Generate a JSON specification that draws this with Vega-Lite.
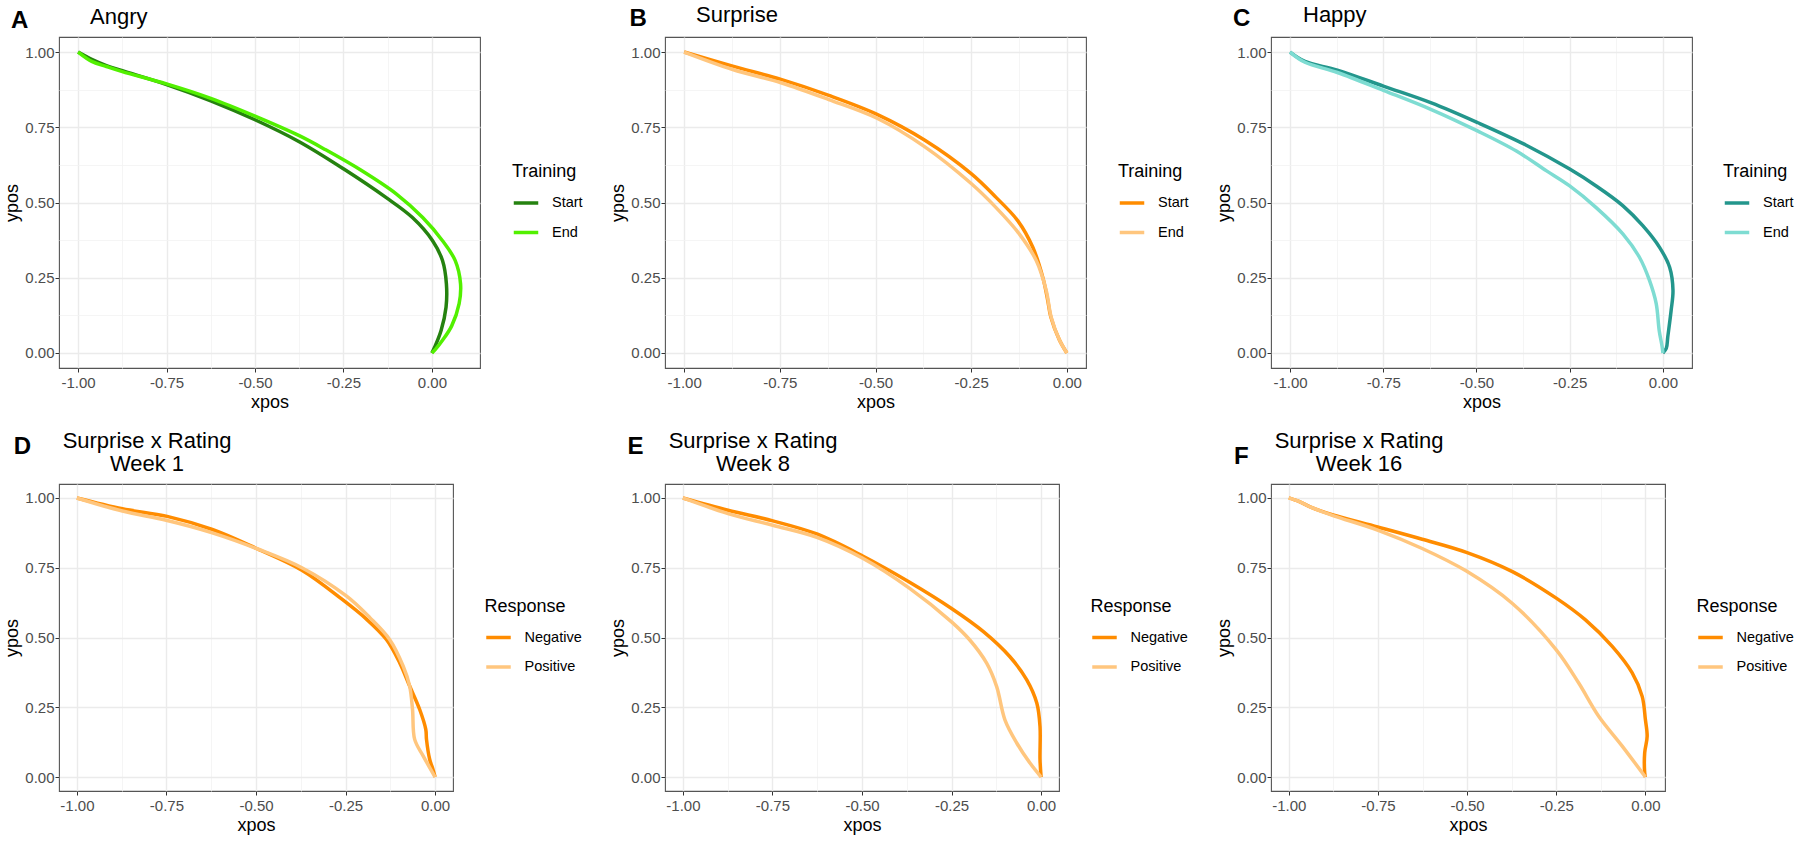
{
  "$schema": "https://vega.github.io/schema/vega-lite/v6.json",
  "background": "white",
  "padding": {"left": 3, "top": 3, "right": 0, "bottom": 0},
  "datasets": {
    "angry": [
      {"i":0,"group":"Start","xpos":-1,"ypos":1},{"i":1,"group":"Start","xpos":-0.96,"ypos":0.975},{"i":2,"group":"Start","xpos":-0.92,"ypos":0.955},{"i":3,"group":"Start","xpos":-0.875,"ypos":0.938},{"i":4,"group":"Start","xpos":-0.75,"ypos":0.892},{"i":5,"group":"Start","xpos":-0.625,"ypos":0.838},{"i":6,"group":"Start","xpos":-0.5,"ypos":0.775},{"i":7,"group":"Start","xpos":-0.375,"ypos":0.702},{"i":8,"group":"Start","xpos":-0.25,"ypos":0.612},{"i":9,"group":"Start","xpos":-0.13,"ypos":0.517},{"i":10,"group":"Start","xpos":-0.055,"ypos":0.45},{"i":11,"group":"Start","xpos":0.002,"ypos":0.373},{"i":12,"group":"Start","xpos":0.03,"ypos":0.307},{"i":13,"group":"Start","xpos":0.041,"ypos":0.23},{"i":14,"group":"Start","xpos":0.04,"ypos":0.152},{"i":15,"group":"Start","xpos":0.026,"ypos":0.075},{"i":16,"group":"Start","xpos":0.008,"ypos":0.02},{"i":17,"group":"Start","xpos":0,"ypos":0},
      {"i":0,"group":"End","xpos":-1,"ypos":1},{"i":1,"group":"End","xpos":-0.96,"ypos":0.968},{"i":2,"group":"End","xpos":-0.92,"ypos":0.952},{"i":3,"group":"End","xpos":-0.875,"ypos":0.935},{"i":4,"group":"End","xpos":-0.75,"ypos":0.894},{"i":5,"group":"End","xpos":-0.625,"ypos":0.846},{"i":6,"group":"End","xpos":-0.5,"ypos":0.787},{"i":7,"group":"End","xpos":-0.375,"ypos":0.722},{"i":8,"group":"End","xpos":-0.3,"ypos":0.675},{"i":9,"group":"End","xpos":-0.2,"ypos":0.607},{"i":10,"group":"End","xpos":-0.1,"ypos":0.528},{"i":11,"group":"End","xpos":-0.026,"ypos":0.45},{"i":12,"group":"End","xpos":0.03,"ypos":0.373},{"i":13,"group":"End","xpos":0.066,"ypos":0.307},{"i":14,"group":"End","xpos":0.081,"ypos":0.23},{"i":15,"group":"End","xpos":0.077,"ypos":0.164},{"i":16,"group":"End","xpos":0.056,"ypos":0.09},{"i":17,"group":"End","xpos":0.03,"ypos":0.042},{"i":18,"group":"End","xpos":0.01,"ypos":0.012},{"i":19,"group":"End","xpos":0,"ypos":0}
    ],
    "surprise": [
      {"i":0,"group":"Start","xpos":-1,"ypos":1},{"i":1,"group":"Start","xpos":-0.873,"ypos":0.953},{"i":2,"group":"Start","xpos":-0.747,"ypos":0.909},{"i":3,"group":"Start","xpos":-0.622,"ypos":0.856},{"i":4,"group":"Start","xpos":-0.496,"ypos":0.793},{"i":5,"group":"Start","xpos":-0.371,"ypos":0.707},{"i":6,"group":"Start","xpos":-0.25,"ypos":0.596},{"i":7,"group":"Start","xpos":-0.185,"ypos":0.517},{"i":8,"group":"Start","xpos":-0.128,"ypos":0.439},{"i":9,"group":"Start","xpos":-0.089,"ypos":0.351},{"i":10,"group":"Start","xpos":-0.063,"ypos":0.252},{"i":11,"group":"Start","xpos":-0.05,"ypos":0.175},{"i":12,"group":"Start","xpos":-0.042,"ypos":0.12},{"i":13,"group":"Start","xpos":-0.02,"ypos":0.045},{"i":14,"group":"Start","xpos":0,"ypos":0},
      {"i":0,"group":"End","xpos":-1,"ypos":1},{"i":1,"group":"End","xpos":-0.873,"ypos":0.942},{"i":2,"group":"End","xpos":-0.747,"ypos":0.898},{"i":3,"group":"End","xpos":-0.622,"ypos":0.842},{"i":4,"group":"End","xpos":-0.496,"ypos":0.78},{"i":5,"group":"End","xpos":-0.371,"ypos":0.685},{"i":6,"group":"End","xpos":-0.25,"ypos":0.563},{"i":7,"group":"End","xpos":-0.185,"ypos":0.483},{"i":8,"group":"End","xpos":-0.124,"ypos":0.395},{"i":9,"group":"End","xpos":-0.08,"ypos":0.307},{"i":10,"group":"End","xpos":-0.054,"ypos":0.208},{"i":11,"group":"End","xpos":-0.041,"ypos":0.119},{"i":12,"group":"End","xpos":-0.019,"ypos":0.042},{"i":13,"group":"End","xpos":0,"ypos":0}
    ],
    "happy": [
      {"i":0,"group":"Start","xpos":-1,"ypos":1},{"i":1,"group":"Start","xpos":-0.96,"ypos":0.969},{"i":2,"group":"Start","xpos":-0.873,"ypos":0.94},{"i":3,"group":"Start","xpos":-0.748,"ypos":0.886},{"i":4,"group":"Start","xpos":-0.621,"ypos":0.831},{"i":5,"group":"Start","xpos":-0.496,"ypos":0.765},{"i":6,"group":"Start","xpos":-0.369,"ypos":0.692},{"i":7,"group":"Start","xpos":-0.25,"ypos":0.611},{"i":8,"group":"Start","xpos":-0.179,"ypos":0.555},{"i":9,"group":"Start","xpos":-0.107,"ypos":0.489},{"i":10,"group":"Start","xpos":-0.054,"ypos":0.423},{"i":11,"group":"Start","xpos":-0.009,"ypos":0.351},{"i":12,"group":"Start","xpos":0.018,"ypos":0.285},{"i":13,"group":"Start","xpos":0.027,"ypos":0.208},{"i":14,"group":"Start","xpos":0.022,"ypos":0.141},{"i":15,"group":"Start","xpos":0.013,"ypos":0.053},{"i":16,"group":"Start","xpos":0.009,"ypos":0.015},{"i":17,"group":"Start","xpos":0,"ypos":0},
      {"i":0,"group":"End","xpos":-1,"ypos":1},{"i":1,"group":"End","xpos":-0.96,"ypos":0.966},{"i":2,"group":"End","xpos":-0.873,"ypos":0.932},{"i":3,"group":"End","xpos":-0.748,"ypos":0.872},{"i":4,"group":"End","xpos":-0.621,"ypos":0.809},{"i":5,"group":"End","xpos":-0.496,"ypos":0.737},{"i":6,"group":"End","xpos":-0.393,"ypos":0.671},{"i":7,"group":"End","xpos":-0.312,"ypos":0.605},{"i":8,"group":"End","xpos":-0.25,"ypos":0.555},{"i":9,"group":"End","xpos":-0.179,"ypos":0.483},{"i":10,"group":"End","xpos":-0.107,"ypos":0.395},{"i":11,"group":"End","xpos":-0.063,"ypos":0.318},{"i":12,"group":"End","xpos":-0.036,"ypos":0.241},{"i":13,"group":"End","xpos":-0.018,"ypos":0.164},{"i":14,"group":"End","xpos":-0.01,"ypos":0.075},{"i":15,"group":"End","xpos":-0.002,"ypos":0.02},{"i":16,"group":"End","xpos":0,"ypos":0}
    ],
    "week1": [
      {"i":0,"group":"Negative","xpos":-1,"ypos":1},{"i":1,"group":"Negative","xpos":-0.873,"ypos":0.961},{"i":2,"group":"Negative","xpos":-0.748,"ypos":0.934},{"i":3,"group":"Negative","xpos":-0.622,"ypos":0.887},{"i":4,"group":"Negative","xpos":-0.497,"ypos":0.818},{"i":5,"group":"Negative","xpos":-0.372,"ypos":0.741},{"i":6,"group":"Negative","xpos":-0.261,"ypos":0.638},{"i":7,"group":"Negative","xpos":-0.191,"ypos":0.565},{"i":8,"group":"Negative","xpos":-0.136,"ypos":0.493},{"i":9,"group":"Negative","xpos":-0.099,"ypos":0.41},{"i":10,"group":"Negative","xpos":-0.071,"ypos":0.326},{"i":11,"group":"Negative","xpos":-0.043,"ypos":0.242},{"i":12,"group":"Negative","xpos":-0.026,"ypos":0.171},{"i":13,"group":"Negative","xpos":-0.024,"ypos":0.135},{"i":14,"group":"Negative","xpos":-0.015,"ypos":0.063},{"i":15,"group":"Negative","xpos":-0.006,"ypos":0.028},{"i":16,"group":"Negative","xpos":0,"ypos":0},
      {"i":0,"group":"Positive","xpos":-1,"ypos":1},{"i":1,"group":"Positive","xpos":-0.873,"ypos":0.953},{"i":2,"group":"Positive","xpos":-0.748,"ypos":0.919},{"i":3,"group":"Positive","xpos":-0.622,"ypos":0.875},{"i":4,"group":"Positive","xpos":-0.497,"ypos":0.818},{"i":5,"group":"Positive","xpos":-0.372,"ypos":0.75},{"i":6,"group":"Positive","xpos":-0.247,"ypos":0.648},{"i":7,"group":"Positive","xpos":-0.182,"ypos":0.571},{"i":8,"group":"Positive","xpos":-0.127,"ypos":0.493},{"i":9,"group":"Positive","xpos":-0.089,"ypos":0.397},{"i":10,"group":"Positive","xpos":-0.071,"ypos":0.326},{"i":11,"group":"Positive","xpos":-0.063,"ypos":0.242},{"i":12,"group":"Positive","xpos":-0.057,"ypos":0.135},{"i":13,"group":"Positive","xpos":-0.033,"ypos":0.075},{"i":14,"group":"Positive","xpos":0,"ypos":0}
    ],
    "week8": [
      {"i":0,"group":"Negative","xpos":-1,"ypos":1},{"i":1,"group":"Negative","xpos":-0.874,"ypos":0.956},{"i":2,"group":"Negative","xpos":-0.749,"ypos":0.918},{"i":3,"group":"Negative","xpos":-0.624,"ypos":0.87},{"i":4,"group":"Negative","xpos":-0.498,"ypos":0.792},{"i":5,"group":"Negative","xpos":-0.367,"ypos":0.698},{"i":6,"group":"Negative","xpos":-0.25,"ypos":0.604},{"i":7,"group":"Negative","xpos":-0.161,"ypos":0.521},{"i":8,"group":"Negative","xpos":-0.087,"ypos":0.431},{"i":9,"group":"Negative","xpos":-0.04,"ypos":0.348},{"i":10,"group":"Negative","xpos":-0.012,"ypos":0.265},{"i":11,"group":"Negative","xpos":-0.003,"ypos":0.181},{"i":12,"group":"Negative","xpos":-0.003,"ypos":0.062},{"i":13,"group":"Negative","xpos":0,"ypos":0},
      {"i":0,"group":"Positive","xpos":-1,"ypos":1},{"i":1,"group":"Positive","xpos":-0.874,"ypos":0.944},{"i":2,"group":"Positive","xpos":-0.749,"ypos":0.902},{"i":3,"group":"Positive","xpos":-0.624,"ypos":0.858},{"i":4,"group":"Positive","xpos":-0.498,"ypos":0.784},{"i":5,"group":"Positive","xpos":-0.367,"ypos":0.676},{"i":6,"group":"Positive","xpos":-0.25,"ypos":0.556},{"i":7,"group":"Positive","xpos":-0.199,"ypos":0.491},{"i":8,"group":"Positive","xpos":-0.152,"ypos":0.408},{"i":9,"group":"Positive","xpos":-0.124,"ypos":0.324},{"i":10,"group":"Positive","xpos":-0.101,"ypos":0.205},{"i":11,"group":"Positive","xpos":-0.068,"ypos":0.122},{"i":12,"group":"Positive","xpos":-0.031,"ypos":0.05},{"i":13,"group":"Positive","xpos":0,"ypos":0}
    ],
    "week16": [
      {"i":0,"group":"Negative","xpos":-1,"ypos":1},{"i":1,"group":"Negative","xpos":-0.969,"ypos":0.986},{"i":2,"group":"Negative","xpos":-0.937,"ypos":0.966},{"i":3,"group":"Negative","xpos":-0.876,"ypos":0.939},{"i":4,"group":"Negative","xpos":-0.751,"ypos":0.896},{"i":5,"group":"Negative","xpos":-0.626,"ypos":0.852},{"i":6,"group":"Negative","xpos":-0.502,"ypos":0.805},{"i":7,"group":"Negative","xpos":-0.373,"ypos":0.736},{"i":8,"group":"Negative","xpos":-0.25,"ypos":0.641},{"i":9,"group":"Negative","xpos":-0.168,"ypos":0.563},{"i":10,"group":"Negative","xpos":-0.093,"ypos":0.468},{"i":11,"group":"Negative","xpos":-0.037,"ypos":0.373},{"i":12,"group":"Negative","xpos":-0.009,"ypos":0.289},{"i":13,"group":"Negative","xpos":0,"ypos":0.206},{"i":14,"group":"Negative","xpos":0.005,"ypos":0.146},{"i":15,"group":"Negative","xpos":-0.002,"ypos":0.087},{"i":16,"group":"Negative","xpos":-0.002,"ypos":0.016},{"i":17,"group":"Negative","xpos":0,"ypos":0},
      {"i":0,"group":"Positive","xpos":-1,"ypos":1},{"i":1,"group":"Positive","xpos":-0.969,"ypos":0.986},{"i":2,"group":"Positive","xpos":-0.937,"ypos":0.966},{"i":3,"group":"Positive","xpos":-0.876,"ypos":0.937},{"i":4,"group":"Positive","xpos":-0.751,"ypos":0.885},{"i":5,"group":"Positive","xpos":-0.626,"ypos":0.819},{"i":6,"group":"Positive","xpos":-0.502,"ypos":0.738},{"i":7,"group":"Positive","xpos":-0.373,"ypos":0.622},{"i":8,"group":"Positive","xpos":-0.25,"ypos":0.456},{"i":9,"group":"Positive","xpos":-0.187,"ypos":0.337},{"i":10,"group":"Positive","xpos":-0.131,"ypos":0.218},{"i":11,"group":"Positive","xpos":-0.065,"ypos":0.111},{"i":12,"group":"Positive","xpos":0,"ypos":0}
    ]
  },
  "config": {
    "font": "Liberation Sans",
    "view": {"stroke": "#555555", "strokeWidth": 1.1},
    "axis": {
      "domain": false,
      "grid": true,
      "gridColor": {"condition": {"test": "abs(datum.value*4-round(datum.value*4))<0.001", "value": "#EBEBEB"}, "value": "#F3F3F3"},
      "gridWidth": {"condition": {"test": "abs(datum.value*4-round(datum.value*4))<0.001", "value": 1.4}, "value": 0.8},
      "tickOpacity": {"condition": {"test": "abs(datum.value*4-round(datum.value*4))<0.001", "value": 1}, "value": 0},
      "labelExpr": "abs(datum.value*4-round(datum.value*4))<0.001 ? replace(format(datum.value,'.2f'),'\u2212','-') : ''",
      "tickColor": "#333333",
      "tickSize": 4,
      "labelFont": "Liberation Sans",
      "labelFontSize": 15,
      "labelColor": "#4D4D4D",
      "labelFlush": false,
      "labelOverlap": false,
      "titleFont": "Liberation Sans",
      "titleFontSize": 18,
      "titleFontWeight": "normal",
      "titleColor": "#000000"
    },
    "axisX": {"labelPadding": 3, "titlePadding": 3},
    "axisY": {"labelPadding": 1, "titlePadding": 3},
    "legend": {
      "orient": "none",
      "titleFont": "Liberation Sans",
      "titleFontSize": 18,
      "titleFontWeight": "normal",
      "titleColor": "#000000",
      "labelFont": "Liberation Sans",
      "labelFontSize": 14.5,
      "labelColor": "#000000",
      "symbolType": "stroke",
      "symbolSize": 600,
      "symbolStrokeWidth": 3.5,
      "labelOffset": 12,
      "titlePadding": 8,
      "rowPadding": 8.5,
      "padding": 0
    },
    "title": {"font": "Liberation Sans", "fontSize": 22, "fontWeight": "normal", "anchor": "start", "frame": "group", "color": "#000000"},
    "line": {"strokeWidth": 3.5, "interpolate": "catmull-rom"},
    "text": {"font": "Liberation Sans", "fontSize": 24, "fontWeight": "bold", "align": "left", "baseline": "alphabetic", "clip": false, "color": "#000000"}
  },
  "spacing": 17,
  "resolve": {"scale": {"color": "independent"}},
  "vconcat": [
    {
      "spacing": 185,
      "bounds": "flush",
      "resolve": {"scale": {"color": "independent"}},
      "hconcat": [
        {
          "width": 421, "height": 331,
          "title": {"text": "Angry", "align": "left", "dx": 31, "offset": -20},
          "layer": [
            {
              "data": {"name": "angry"},
              "mark": {"type": "line"},
              "encoding": {
                "x": {"field": "xpos", "type": "quantitative", "scale": {"domain": [-1.054, 0.136], "nice": false, "zero": false}, "axis": {"title": "xpos", "values": [-1,-0.875,-0.75,-0.625,-0.5,-0.375,-0.25,-0.125,0]}},
                "y": {"field": "ypos", "type": "quantitative", "scale": {"domain": [-0.05, 1.05], "nice": false, "zero": false}, "axis": {"title": "ypos", "values": [0,0.125,0.25,0.375,0.5,0.625,0.75,0.875,1]}},
                "color": {"field": "group", "type": "nominal", "scale": {"domain": ["Start", "End"], "range": ["#25820F", "#52F000"]}, "legend": {"title": "Training", "legendX": 453, "legendY": 126}},
                "order": {"field": "i", "type": "quantitative"}
              }
            },
            {
              "data": {"values": [{}]},
              "mark": {"type": "text"},
              "encoding": {"x": {"datum": -1.19}, "y": {"datum": 1.081}, "text": {"value": "A"}}
            }
          ]
        },
        {
          "width": 421, "height": 331,
          "title": {"text": "Surprise", "align": "left", "dx": 31, "offset": -20},
          "layer": [
            {
              "data": {"name": "surprise"},
              "mark": {"type": "line"},
              "encoding": {
                "x": {"field": "xpos", "type": "quantitative", "scale": {"domain": [-1.05, 0.05], "nice": false, "zero": false}, "axis": {"title": "xpos", "values": [-1,-0.875,-0.75,-0.625,-0.5,-0.375,-0.25,-0.125,0]}},
                "y": {"field": "ypos", "type": "quantitative", "scale": {"domain": [-0.05, 1.05], "nice": false, "zero": false}, "axis": {"title": "ypos", "values": [0,0.125,0.25,0.375,0.5,0.625,0.75,0.875,1]}},
                "color": {"field": "group", "type": "nominal", "scale": {"domain": ["Start", "End"], "range": ["#FF8C00", "#FFC67E"]}, "legend": {"title": "Training", "legendX": 453, "legendY": 126}},
                "order": {"field": "i", "type": "quantitative"}
              }
            },
            {
              "data": {"values": [{}]},
              "mark": {"type": "text"},
              "encoding": {"x": {"datum": -1.143}, "y": {"datum": 1.0856}, "text": {"value": "B"}}
            }
          ]
        },
        {
          "width": 421, "height": 331,
          "title": {"text": "Happy", "align": "left", "dx": 32, "offset": -20},
          "layer": [
            {
              "data": {"name": "happy"},
              "mark": {"type": "line"},
              "encoding": {
                "x": {"field": "xpos", "type": "quantitative", "scale": {"domain": [-1.051, 0.078], "nice": false, "zero": false}, "axis": {"title": "xpos", "values": [-1,-0.875,-0.75,-0.625,-0.5,-0.375,-0.25,-0.125,0]}},
                "y": {"field": "ypos", "type": "quantitative", "scale": {"domain": [-0.05, 1.05], "nice": false, "zero": false}, "axis": {"title": "ypos", "values": [0,0.125,0.25,0.375,0.5,0.625,0.75,0.875,1]}},
                "color": {"field": "group", "type": "nominal", "scale": {"domain": ["Start", "End"], "range": ["#23968C", "#7EDCD2"]}, "legend": {"title": "Training", "legendX": 452, "legendY": 126}},
                "order": {"field": "i", "type": "quantitative"}
              }
            },
            {
              "data": {"values": [{}]},
              "mark": {"type": "text"},
              "encoding": {"x": {"datum": -1.153}, "y": {"datum": 1.0856}, "text": {"value": "C"}}
            }
          ]
        }
      ]
    },
    {
      "spacing": 212,
      "bounds": "flush",
      "resolve": {"scale": {"color": "independent"}},
      "hconcat": [
        {
          "width": 394, "height": 307,
          "title": {"text": ["Surprise x Rating", "Week 1"], "align": "center", "dx": 88, "lineHeight": 22.5, "offset": -41},
          "layer": [
            {
              "data": {"name": "week1"},
              "mark": {"type": "line"},
              "encoding": {
                "x": {"field": "xpos", "type": "quantitative", "scale": {"domain": [-1.05, 0.05], "nice": false, "zero": false}, "axis": {"title": "xpos", "values": [-1,-0.875,-0.75,-0.625,-0.5,-0.375,-0.25,-0.125,0]}},
                "y": {"field": "ypos", "type": "quantitative", "scale": {"domain": [-0.05, 1.05], "nice": false, "zero": false}, "axis": {"title": "ypos", "values": [0,0.125,0.25,0.375,0.5,0.625,0.75,0.875,1]}},
                "color": {"field": "group", "type": "nominal", "scale": {"domain": ["Negative", "Positive"], "range": ["#FF8C00", "#FFC67E"]}, "legend": {"title": "Response", "legendX": 425.5, "legendY": 113.5}},
                "order": {"field": "i", "type": "quantitative"}
              }
            },
            {
              "data": {"values": [{}]},
              "mark": {"type": "text"},
              "encoding": {"x": {"datum": -1.1765}, "y": {"datum": 1.1575}, "text": {"value": "D"}}
            }
          ]
        },
        {
          "width": 394, "height": 307,
          "title": {"text": ["Surprise x Rating", "Week 8"], "align": "center", "dx": 88, "lineHeight": 22.5, "offset": -41},
          "layer": [
            {
              "data": {"name": "week8"},
              "mark": {"type": "line"},
              "encoding": {
                "x": {"field": "xpos", "type": "quantitative", "scale": {"domain": [-1.05, 0.05], "nice": false, "zero": false}, "axis": {"title": "xpos", "values": [-1,-0.875,-0.75,-0.625,-0.5,-0.375,-0.25,-0.125,0]}},
                "y": {"field": "ypos", "type": "quantitative", "scale": {"domain": [-0.05, 1.05], "nice": false, "zero": false}, "axis": {"title": "ypos", "values": [0,0.125,0.25,0.375,0.5,0.625,0.75,0.875,1]}},
                "color": {"field": "group", "type": "nominal", "scale": {"domain": ["Negative", "Positive"], "range": ["#FF8C00", "#FFC67E"]}, "legend": {"title": "Response", "legendX": 425.5, "legendY": 113.5}},
                "order": {"field": "i", "type": "quantitative"}
              }
            },
            {
              "data": {"values": [{}]},
              "mark": {"type": "text"},
              "encoding": {"x": {"datum": -1.1547}, "y": {"datum": 1.1575}, "text": {"value": "E"}}
            }
          ]
        },
        {
          "width": 394, "height": 307,
          "title": {"text": ["Surprise x Rating", "Week 16"], "align": "center", "dx": 88, "lineHeight": 22.5, "offset": -31},
          "layer": [
            {
              "data": {"name": "week16"},
              "mark": {"type": "line"},
              "encoding": {
                "x": {"field": "xpos", "type": "quantitative", "scale": {"domain": [-1.05, 0.055], "nice": false, "zero": false}, "axis": {"title": "xpos", "values": [-1,-0.875,-0.75,-0.625,-0.5,-0.375,-0.25,-0.125,0]}},
                "y": {"field": "ypos", "type": "quantitative", "scale": {"domain": [-0.05, 1.05], "nice": false, "zero": false}, "axis": {"title": "ypos", "values": [0,0.125,0.25,0.375,0.5,0.625,0.75,0.875,1]}},
                "color": {"field": "group", "type": "nominal", "scale": {"domain": ["Negative", "Positive"], "range": ["#FF8C00", "#FFC67E"]}, "legend": {"title": "Response", "legendX": 425.5, "legendY": 113.5}},
                "order": {"field": "i", "type": "quantitative"}
              }
            },
            {
              "data": {"values": [{}]},
              "mark": {"type": "text"},
              "encoding": {"x": {"datum": -1.1538}, "y": {"datum": 1.1217}, "text": {"value": "F"}}
            }
          ]
        }
      ]
    }
  ]
}
